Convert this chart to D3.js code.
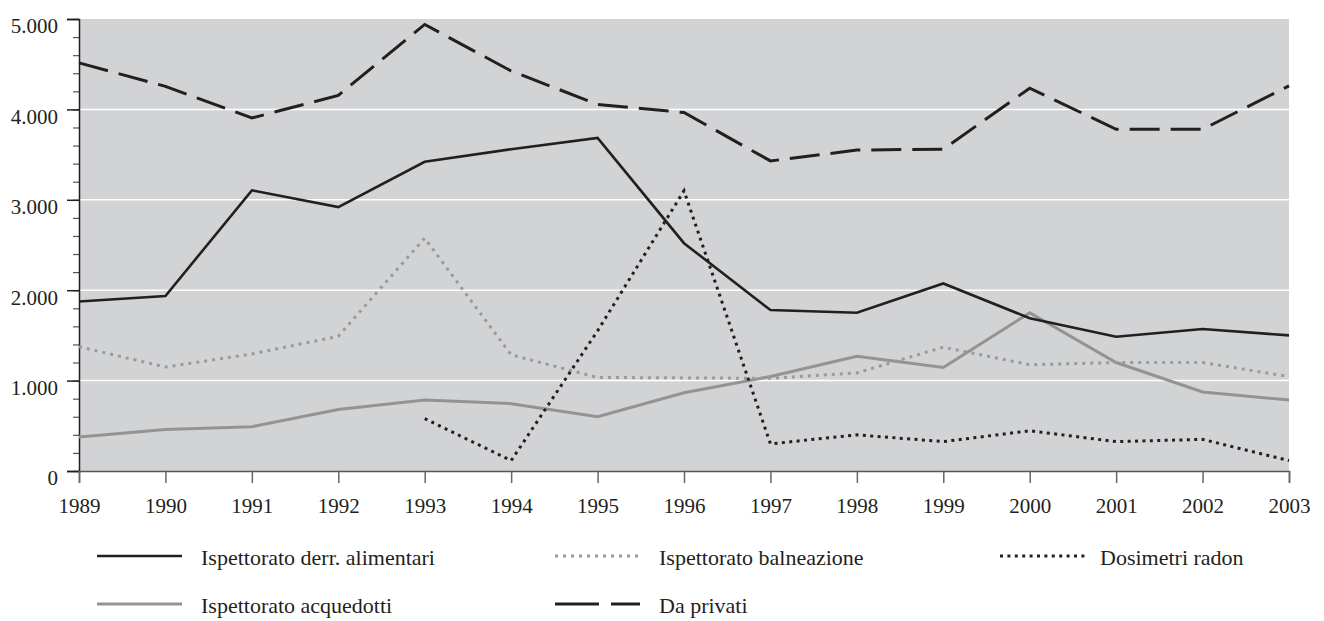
<!DOCTYPE html>
<html>
<head>
<meta charset="utf-8">
<script src="https://cdn.jsdelivr.net/npm/d3@7"></script>
<style>
  body { margin: 0; background: #fff; }
  svg text { font-family: "Liberation Serif", "Times New Roman", serif; fill: #231f20; }
</style>
</head>
<body>
<svg id="mainChart" width="1324" height="621"></svg>
<script>
// data
var years = [1989, 1990, 1991, 1992, 1993, 1994, 1995, 1996, 1997, 1998, 1999, 2000, 2001, 2002, 2003];
var derrAlimentari = [1875, 1935, 3105, 2920, 3420, 3560, 3685, 2520, 1780, 1750, 2075, 1690, 1485, 1570, 1500];
var acquedotti = [375, 460, 490, 680, 785, 745, 600, 865, 1045, 1270, 1145, 1750, 1200, 875, 785];
var balneazione = [1375, 1150, 1295, 1490, 2575, 1285, 1035, 1030, 1025, 1085, 1370, 1175, 1200, 1200, 1045];
var privati = [4515, 4255, 3905, 4155, 4940, 4425, 4055, 3965, 3430, 3550, 3560, 4235, 3780, 3780, 4260];
var radon = [null, null, null, null, 580, 115, 1550, 3100, 300, 400, 325, 445, 325, 350, 115];
var yMajor = [0, 1000, 2000, 3000, 4000, 5000];

var series = [
  { name: "Ispettorato derr. alimentari", values: derrAlimentari, color: "#231f20", width: 2.6, dash: null },
  { name: "Ispettorato acquedotti", values: acquedotti, color: "#939393", width: 3, dash: null },
  { name: "Ispettorato balneazione", values: balneazione, color: "#9a9a9a", width: 3, dash: "3,5" },
  { name: "Da privati", values: privati, color: "#231f20", width: 3, dash: "30,11" },
  { name: "Dosimetri radon", values: radon, color: "#231f20", width: 3, dash: "3,4.4" }
];

var svg = d3.select("#mainChart"),
  plotLeft = 79, plotTop = 19, plotRight = 1289, plotBottom = 471;

var x = d3.scaleLinear().domain([1989, 2003]).range([plotLeft, plotRight]);
var y = d3.scaleLinear().domain([0, 5000]).range([plotBottom, plotTop]);

var it = d3.formatLocale({ decimal: ",", thousands: ".", grouping: [3], currency: ["", ""] });
var fmt = it.format(",");

// plot background
svg.append("rect")
  .attr("x", plotLeft).attr("y", plotTop)
  .attr("width", plotRight - plotLeft).attr("height", plotBottom - plotTop)
  .attr("fill", "#d2d3d5");

// white gridlines
svg.append("g").selectAll("line")
  .data(yMajor.filter(function(d) { return d > 0 && d < 5000; }))
  .enter().append("line")
  .attr("x1", plotLeft).attr("x2", plotRight)
  .attr("y1", function(d) { return y(d); })
  .attr("y2", function(d) { return y(d); })
  .attr("stroke", "#fff").attr("stroke-width", 1.5);

// minor ticks on y
svg.append("g")
  .attr("transform", "translate(" + plotLeft + ",0)")
  .call(d3.axisLeft(y).tickValues(d3.range(0, 5001, 200)).tickSize(6).tickFormat(""))
  .call(function(g) {
    g.select(".domain").remove();
    g.selectAll("line").attr("stroke", "#555").attr("stroke-width", 1.2);
  });

// major y axis
svg.append("g")
  .attr("transform", "translate(" + plotLeft + ",0)")
  .call(d3.axisLeft(y).tickValues(yMajor).tickSize(12).tickPadding(9).tickFormat(fmt))
  .call(function(g) {
    g.select(".domain").attr("stroke", "#231f20").attr("stroke-width", 1.5);
    g.selectAll("line").attr("stroke", "#231f20").attr("stroke-width", 1.5);
    g.selectAll("text").attr("font-size", 21).attr("dy", "0.66em")
      .style("font-family", "'Liberation Serif', serif").attr("fill", "#231f20");
  });

// x axis
svg.append("g")
  .attr("transform", "translate(0," + plotBottom + ")")
  .call(d3.axisBottom(x).tickValues(years).tickSize(12).tickPadding(15).tickFormat(d3.format("d")))
  .call(function(g) {
    g.select(".domain").attr("stroke", "#555").attr("stroke-width", 1.5);
    g.selectAll("line").attr("stroke", "#666").attr("stroke-width", 1.5);
    g.selectAll("text").attr("font-size", 21)
      .style("font-family", "'Liberation Serif', serif").attr("fill", "#231f20");
  });

// lines
var line = d3.line()
  .defined(function(d) { return d != null; })
  .x(function(d, i) { return x(years[i]); })
  .y(function(d) { return y(d); });

var drawOrder = [1, 2, 0, 3, 4];
drawOrder.forEach(function(k) {
  var s = series[k];
  svg.append("path")
    .datum(s.values)
    .attr("d", line)
    .attr("fill", "none")
    .attr("stroke", s.color)
    .attr("stroke-width", s.width)
    .attr("stroke-dasharray", s.dash)
    .attr("stroke-linejoin", "miter");
});

// legend
var legendPos = [
  { s: 0, x: 97, y: 556 },
  { s: 2, x: 555, y: 556 },
  { s: 4, x: 1000, y: 556 },
  { s: 1, x: 97, y: 604 },
  { s: 3, x: 555, y: 604 }
];
var legend = svg.append("g").selectAll("g")
  .data(legendPos)
  .enter().append("g")
  .attr("transform", function(d) { return "translate(" + d.x + "," + d.y + ")"; });

legend.append("line")
  .attr("x1", 0).attr("x2", 85)
  .attr("stroke", function(d) { return series[d.s].color; })
  .attr("stroke-width", function(d) { return series[d.s].width; })
  .attr("stroke-dasharray", function(d) { return d.s === 3 ? "44,12,29" : series[d.s].dash; });

legend.append("text")
  .attr("x", function(d) { return d.s === 4 ? 100 : 104; })
  .attr("y", 9)
  .attr("font-size", 22)
  .text(function(d) { return series[d.s].name; });
</script>
</body>
</html>
